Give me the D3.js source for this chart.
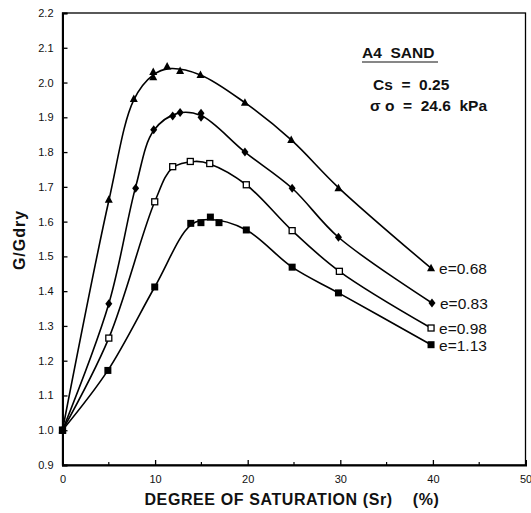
<!DOCTYPE html>
<html>
<head>
<meta charset="utf-8">
<script src="https://cdn.jsdelivr.net/npm/d3@7"></script>
<style>
  html, body { margin: 0; padding: 0; background: #fff; }
  svg { display: block; font-family: "Liberation Sans", Arial, Helvetica, sans-serif; }
</style>
</head>
<body>
<svg id="chart" width="531" height="513"></svg>
<script>
// Normalised shear modulus G/Gdry vs degree of saturation, A4 sand
const xTicks = [0, 10, 20, 30, 40, 50];
const xMinorTicks = [5, 15, 25, 35, 45];
const yTicks = [0.9, 1.0, 1.1, 1.2, 1.3, 1.4, 1.5, 1.6, 1.7, 1.8, 1.9, 2.0, 2.1, 2.2];

const seriesNames = ["e=0.68", "e=0.83", "e=0.98", "e=1.13"];
const seriesSymbols = ["triangle", "diamond", "squareOpen", "square"];

// measured points [Sr %, G/Gdry]
const pts068 = [[0, 1.0], [5, 1.663], [7.7, 1.953], [9.8, 2.015], [9.8, 2.03], [11.3, 2.046], [12.7, 2.033], [14.9, 2.022], [19.7, 1.942], [24.7, 1.835], [29.8, 1.696], [39.8, 1.466]];
const pts083 = [[0, 1.0], [5, 1.364], [7.9, 1.696], [9.85, 1.864], [11.9, 1.904], [12.7, 1.914], [14.96, 1.90], [14.96, 1.912], [19.7, 1.80], [24.8, 1.696], [29.8, 1.555], [39.9, 1.366]];
const pts098 = [[0, 1.0], [5, 1.265], [9.96, 1.657], [11.9, 1.758], [13.8, 1.773], [15.9, 1.767], [19.85, 1.706], [24.8, 1.574], [29.9, 1.457], [39.8, 1.294]];
const pts113 = [[0, 1.0], [4.9, 1.172], [9.96, 1.412], [13.85, 1.595], [14.95, 1.597], [15.97, 1.613], [16.9, 1.597], [19.85, 1.576], [24.8, 1.469], [29.8, 1.395], [39.8, 1.246]];

// fitted curves drawn through the data
const fit068 = [[0, 1.0], [5, 1.66], [7.7, 1.95], [9.8, 2.022], [11.5, 2.04], [14.9, 2.022], [19.7, 1.942], [24.7, 1.835], [29.8, 1.698], [39.8, 1.466]];
const fit083 = [[0, 1.0], [5, 1.364], [7.9, 1.70], [9.85, 1.862], [12.5, 1.912], [14.96, 1.905], [19.7, 1.80], [24.8, 1.696], [29.8, 1.555], [39.9, 1.366]];
const fit098 = [[0, 1.0], [5, 1.265], [9.96, 1.657], [11.9, 1.755], [14.3, 1.773], [15.9, 1.766], [19.85, 1.706], [24.8, 1.574], [29.9, 1.457], [39.8, 1.294]];
const fit113 = [[0, 1.0], [4.9, 1.172], [9.96, 1.412], [13.85, 1.59], [15.9, 1.606], [19.85, 1.576], [24.8, 1.469], [29.8, 1.395], [39.8, 1.246]];

const seriesPoints = [pts068, pts083, pts098, pts113];
const seriesFits = [fit068, fit083, fit098, fit113];

const svg = d3.select("#chart");
const x = d3.scaleLinear().domain([0, 50]).range([62.5, 525.5]);
const y = d3.scaleLinear().domain([0.9, 2.2]).range([465, 13]);

// frame
svg.append("rect")
  .attr("x", x(0)).attr("y", y(2.2))
  .attr("width", x(50) - x(0)).attr("height", y(0.9) - y(2.2))
  .attr("fill", "none").attr("stroke", "#000").attr("stroke-width", 1.3);

// axes with inward ticks
const xAxis = d3.axisBottom(x).tickValues(xTicks).tickSize(-5).tickPadding(10).tickFormat(d3.format("d"));
const gx = svg.append("g").attr("transform", `translate(0,${y(0.9)})`).call(xAxis);
const yAxis = d3.axisLeft(y).tickValues(yTicks).tickSize(-5).tickPadding(9).tickFormat(d3.format(".1f"));
const gy = svg.append("g").attr("transform", `translate(${x(0)},0)`).call(yAxis);
[gx, gy].forEach(g => {
  g.select(".domain").attr("stroke-width", 2);
  g.selectAll(".tick line").attr("stroke-width", 1.3);
  g.selectAll(".tick text").attr("font-size", 11).attr("fill", "#111")
    .attr("font-family", "'Liberation Sans', Arial, sans-serif");
});
svg.append("g").selectAll("line").data(xMinorTicks).join("line")
  .attr("x1", d => x(d)).attr("x2", d => x(d))
  .attr("y1", y(0.9)).attr("y2", y(0.9) - 3)
  .attr("stroke", "#000").attr("stroke-width", 1.2);

// curves
const line = d3.line().x(d => x(d[0])).y(d => y(d[1])).curve(d3.curveCatmullRom.alpha(0.5));
svg.append("g").selectAll("path").data(seriesFits).join("path")
  .attr("d", line).attr("fill", "none").attr("stroke", "#000").attr("stroke-width", 1.6);

// markers
const markerG = svg.append("g");
seriesPoints.forEach((pts, i) => {
  const kind = seriesSymbols[i];
  const g = markerG.append("g");
  pts.forEach(p => {
    const cx = x(p[0]), cy = y(p[1]);
    if (kind === "triangle") {
      g.append("path").attr("d", `M${cx},${cy - 4.5}L${cx + 4},${cy + 3}L${cx - 4},${cy + 3}Z`).attr("fill", "#000");
    } else if (kind === "diamond") {
      g.append("path").attr("d", `M${cx},${cy - 4.5}L${cx + 3.5},${cy}L${cx},${cy + 4.5}L${cx - 3.5},${cy}Z`).attr("fill", "#000");
    } else if (kind === "squareOpen") {
      g.append("rect").attr("x", cx - 3).attr("y", cy - 3).attr("width", 6).attr("height", 6)
        .attr("fill", "#fff").attr("stroke", "#000").attr("stroke-width", 1.3);
    } else {
      g.append("rect").attr("x", cx - 3.5).attr("y", cy - 3.5).attr("width", 7).attr("height", 7).attr("fill", "#000");
    }
  });
});

// series labels at the last point
svg.append("g").selectAll("text").data(seriesNames).join("text")
  .attr("x", (d, i) => x(seriesPoints[i][seriesPoints[i].length - 1][0]) + 8)
  .attr("y", (d, i) => y(seriesPoints[i][seriesPoints[i].length - 1][1]) + 6)
  .attr("font-size", 15.5).attr("fill", "#111").text(d => d);

// annotation block
const ann = svg.append("g").attr("font-weight", "bold").attr("fill", "#111");
ann.append("text").attr("x", 362).attr("y", 58).attr("font-size", 15.5)
  .attr("xml:space", "preserve").style("white-space", "pre").text("A4  SAND");
ann.append("line").attr("x1", 362).attr("x2", 438).attr("y1", 62).attr("y2", 62)
  .attr("stroke", "#111").attr("stroke-width", 1.2);
ann.append("text").attr("x", 373).attr("y", 90).attr("font-size", 15.5)
  .style("white-space", "pre").text("Cs  =  0.25");
ann.append("text").attr("x", 370).attr("y", 111).attr("font-size", 15.5)
  .style("white-space", "pre").text("\u03C3 o  =  24.6  kPa");

// axis titles
svg.append("text").attr("x", 292).attr("y", 505).attr("text-anchor", "middle")
  .attr("font-size", 16).attr("font-weight", "bold").attr("fill", "#111")
  .attr("letter-spacing", 0.6).style("white-space", "pre")
  .text("DEGREE OF SATURATION (Sr)    (%)");
svg.append("text").attr("transform", "translate(25,240) rotate(-90)").attr("text-anchor", "middle")
  .attr("font-size", 16).attr("font-weight", "bold").attr("fill", "#111").attr("letter-spacing", 1)
  .text("G/Gdry");
</script>
</body>
</html>
